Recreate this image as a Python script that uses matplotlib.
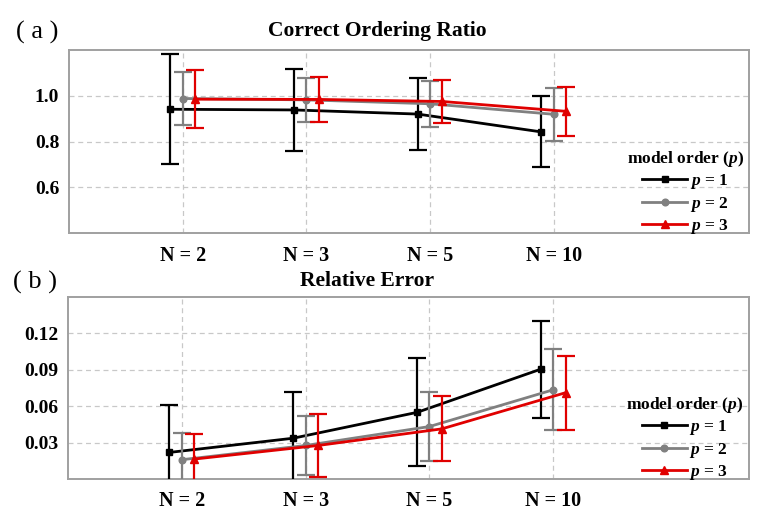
import numpy as np
import matplotlib
matplotlib.use("Agg")
import matplotlib.pyplot as plt
from matplotlib.lines import Line2D

plt.rcParams["font.family"] = ["Liberation Serif", "DejaVu Serif"]
plt.rcParams["mathtext.fontset"] = "custom"
plt.rcParams["mathtext.rm"] = "Liberation Serif:bold"
plt.rcParams["mathtext.bfit"] = "Liberation Serif:italic:bold"
plt.rcParams["mathtext.it"] = "Liberation Serif:italic:bold"

# ── data ─────────────────────────────────────────────────────────────────────
N_LABELS = ["N = 2", "N = 3", "N = 5", "N = 10"]

# (a) correct ordering ratio: mean and +/- error
cor_mean_p1 = [0.941, 0.938, 0.920, 0.842]
cor_err_p1  = [0.240, 0.178, 0.158, 0.155]
cor_mean_p2 = [0.988, 0.982, 0.965, 0.919]
cor_err_p2  = [0.117, 0.095, 0.100, 0.117]
cor_mean_p3 = [0.985, 0.984, 0.975, 0.932]
cor_err_p3  = [0.127, 0.098, 0.095, 0.107]

# (b) relative error: mean and +/- error
rel_mean_p1 = [0.0219, 0.0336, 0.0549, 0.0905]
rel_err_p1  = [0.0390, 0.0380, 0.0445, 0.0400]
rel_mean_p2 = [0.0159, 0.0276, 0.0432, 0.0735]
rel_err_p2  = [0.0224, 0.0245, 0.0285, 0.0335]
rel_mean_p3 = [0.0164, 0.0276, 0.0413, 0.0711]
rel_err_p3  = [0.0205, 0.0258, 0.0267, 0.0306]

COLORS  = ["black", "#808080", "#e00000"]
MARKERS = ["s", "o", "^"]
MSIZE   = [4.5, 4.8, 6.0]
OFFSET  = [-0.1, 0.0, 0.1]

fig = plt.figure(figsize=(7.64, 5.22), dpi=100)
ax_a = fig.add_axes([0.0903, 0.5536, 0.890, 0.3506])
ax_b = fig.add_axes([0.0890, 0.0824, 0.891, 0.3487])

x = np.arange(1, len(N_LABELS) + 1)


def panel(ax, means, errs, ylim, yticks, yfmt):
    handles = []
    for i, (m, e) in enumerate(zip(means, errs)):
        ax.errorbar(x + OFFSET[i], m, yerr=e, color=COLORS[i], marker=MARKERS[i],
                    markersize=MSIZE[i], lw=2.0, elinewidth=1.6, capsize=6.5,
                    capthick=1.6, zorder=3 + i)
        handles.append(Line2D([0], [0], color=COLORS[i], marker=MARKERS[i],
                              markersize=MSIZE[i], lw=2.0,
                              label=r"$\mathbfit{p}$ = %d" % (i + 1)))
    ax.set_xlim(0.08, 5.58)
    ax.set_ylim(*ylim)
    ax.set_xticks(x)
    ax.set_xticklabels(N_LABELS, fontsize=14.5, fontweight="bold")
    ax.set_yticks(yticks)
    ax.set_yticklabels([yfmt % v for v in yticks], fontsize=14, fontweight="bold")
    ax.tick_params(length=0)
    ax.tick_params(axis="x", pad=9)
    ax.tick_params(axis="y", pad=7)
    ax.grid(True, ls=(0, (4, 3)), color="#c8c8c8", lw=0.9)
    ax.set_axisbelow(True)
    for s in ax.spines.values():
        s.set_color("#a0a0a0")
        s.set_linewidth(1.4)
    ax.legend(handles=handles, loc="lower right", bbox_to_anchor=(1.005, -0.065),
              frameon=False, title=r"model order ($\mathbfit{p}$)", handlelength=2.6,
              handletextpad=0.15, labelspacing=0.2, borderaxespad=0.1,
              prop={"size": 12.5, "weight": "bold"},
              title_fontproperties={"size": 12.5, "weight": "bold"})


panel(ax_a, [cor_mean_p1, cor_mean_p2, cor_mean_p3], [cor_err_p1, cor_err_p2, cor_err_p3],
      (0.4, 1.2), [0.6, 0.8, 1.0], "%.1f")
panel(ax_b, [rel_mean_p1, rel_mean_p2, rel_mean_p3], [rel_err_p1, rel_err_p2, rel_err_p3],
      (0.0, 0.15), [0.03, 0.06, 0.09, 0.12], "%.2f")

fig.text(377 / 764, 1 - 31 / 522, "Correct Ordering Ratio", ha="center", va="center",
         fontsize=15.5, fontweight="bold")
fig.text(367 / 764, 1 - 281 / 522, "Relative Error", ha="center", va="center",
         fontsize=15.5, fontweight="bold")
fig.text(16 / 764, 1 - 32 / 522, "( a )", ha="left", va="center", fontsize=19)
fig.text(13 / 764, 1 - 282 / 522, "( b )", ha="left", va="center", fontsize=19)

fig.savefig("out.png", dpi=100)
